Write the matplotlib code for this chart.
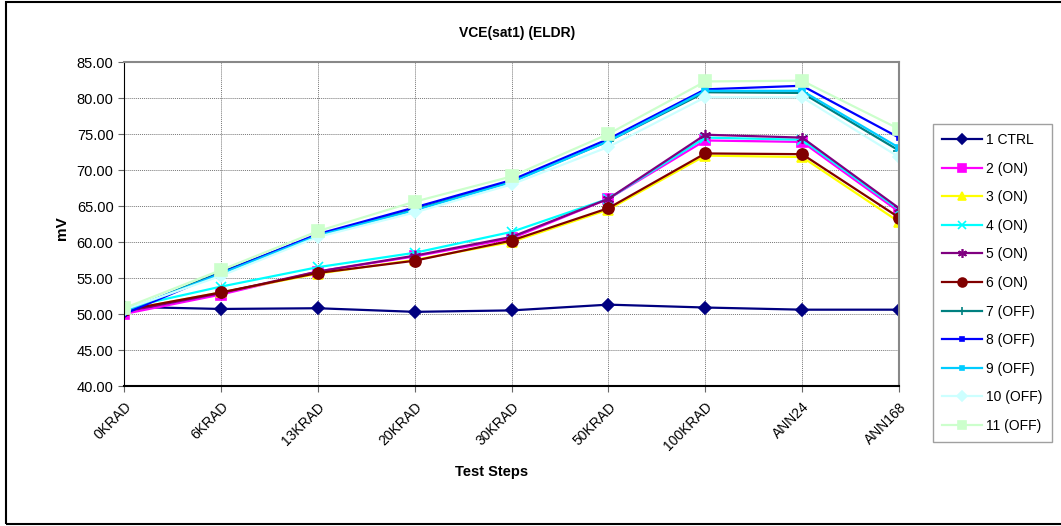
import matplotlib.pyplot as plt
from matplotlib.patches import Rectangle

plt.rcParams['font.family'] = ['Liberation Sans', 'DejaVu Sans']

# Test steps on the x axis
steps = ['0KRAD', '6KRAD', '13KRAD', '20KRAD', '30KRAD', '50KRAD', '100KRAD', 'ANN24', 'ANN168']

# VCE(sat1) values in mV for each unit
ctrl_1 = [51.0, 50.7, 50.8, 50.3, 50.5, 51.3, 50.9, 50.6, 50.6]
on_2 = [50.0, 52.7, 55.9, 58.0, 60.5, 66.0, 74.1, 73.9, 64.2]
on_3 = [50.5, 53.0, 55.6, 57.5, 60.0, 64.5, 72.0, 71.8, 62.8]
on_4 = [50.8, 53.8, 56.5, 58.5, 61.4, 66.0, 74.5, 74.2, 64.5]
on_5 = [50.3, 52.9, 55.9, 58.1, 60.7, 66.0, 74.9, 74.5, 64.7]
on_6 = [50.5, 53.0, 55.7, 57.4, 60.2, 64.7, 72.3, 72.2, 63.4]
off_7 = [50.3, 55.8, 61.0, 64.5, 68.4, 74.0, 80.8, 80.7, 72.7]
off_8 = [50.0, 55.7, 61.1, 64.8, 68.6, 74.3, 81.2, 81.7, 74.5]
off_9 = [50.4, 55.6, 60.9, 64.4, 68.3, 74.0, 81.0, 81.0, 73.1]
off_10 = [50.6, 55.3, 60.7, 64.1, 68.0, 73.2, 80.1, 80.1, 71.8]
off_11 = [50.8, 56.1, 61.5, 65.6, 69.1, 75.0, 82.3, 82.4, 75.7]

names = ['1 CTRL', '2 (ON)', '3 (ON)', '4 (ON)', '5 (ON)', '6 (ON)',
         '7 (OFF)', '8 (OFF)', '9 (OFF)', '10 (OFF)', '11 (OFF)']
series = [ctrl_1, on_2, on_3, on_4, on_5, on_6, off_7, off_8, off_9, off_10, off_11]

# (colour, marker, marker size) per series, Excel style
styles = [
    ('#000080', 'D', 6),
    ('#FF00FF', 's', 7),
    ('#FFFF00', '^', 7),
    ('#00FFFF', 'x', 7),
    ('#800080', (6, 2, 0), 8),
    ('#800000', 'o', 8),
    ('#008080', '+', 8),
    ('#0000FF', 's', 3),
    ('#00CCFF', 's', 4),
    ('#CCFFFF', 'D', 6),
    ('#CCFFCC', 's', 8),
]

fig = plt.figure(figsize=(10.61, 5.26), dpi=100)
ax = fig.add_axes([124 / 1061, 1 - 386 / 526, 775 / 1061, 324 / 526])

x = list(range(len(steps)))
for name, vals, (col, mk, ms) in zip(names, series, styles):
    ax.plot(x, vals, color=col, marker=mk, markersize=ms, linewidth=1.6,
            markeredgecolor=col, markerfacecolor=col, markeredgewidth=1.2,
            label=name)

ax.set_xlim(0, len(steps) - 1)
ax.set_ylim(40, 85)
ax.set_yticks(range(40, 86, 5))
ax.set_yticklabels([f'{v:.2f}' for v in range(40, 86, 5)], fontsize=10.5)
ax.set_xticks(x)
ax.set_xticklabels(steps, rotation=45, ha='right', va='top', fontsize=10,
                   rotation_mode='anchor')
ax.tick_params(axis='both', direction='out', length=4, width=0.8, color='#666666')
ax.tick_params(axis='x', pad=6)

ax.grid(True, color='#777777', linestyle=(0, (1, 1)), linewidth=0.7)
ax.set_axisbelow(True)
ax.spines['left'].set_color('black')
ax.spines['bottom'].set_color('black')
ax.spines['bottom'].set_linewidth(1.5)
ax.spines['top'].set_color('#888888')
ax.spines['right'].set_color('#888888')
ax.spines['top'].set_linewidth(1.5)
ax.spines['right'].set_linewidth(1.5)

fig.text(517 / 1061, 1 - 33 / 526, 'VCE(sat1) (ELDR)', ha='center', va='center',
         fontsize=10, fontweight='bold')
fig.text(62 / 1061, 1 - 228 / 526, 'mV', ha='center', va='center', rotation=90,
         fontsize=11, fontweight='bold')
fig.text(492 / 1061, 1 - 472 / 526, 'Test Steps', ha='center', va='center',
         fontsize=10.5, fontweight='bold')

leg = fig.legend(loc='upper left', bbox_to_anchor=(933 / 1061, 1 - 124 / 526),
                 fontsize=10, frameon=True, fancybox=False, edgecolor='#888888',
                 handlelength=2.9, labelspacing=1.05, borderpad=0.65,
                 handletextpad=0.3, markerscale=0.8, borderaxespad=0)
leg.get_frame().set_linewidth(1.0)

# outer chart border
fig.patches.append(Rectangle((6 / 1061, 1 - 524 / 526), 1.1, 522 / 526,
                             transform=fig.transFigure, fill=False,
                             edgecolor='black', linewidth=1.5))

fig.savefig('out.png', dpi=100)
